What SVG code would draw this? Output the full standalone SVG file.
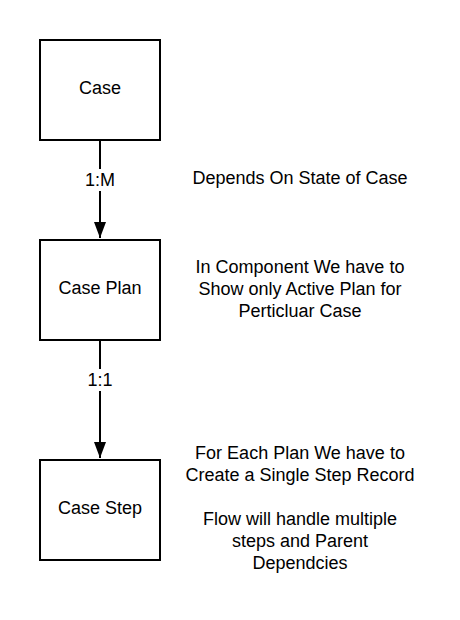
<svg xmlns="http://www.w3.org/2000/svg" width="460" height="620" viewBox="0 0 460 620">
<style>
.box{fill:#fff;stroke:#000;stroke-width:2}
.t{font-family:"Liberation Sans",Arial,sans-serif;font-size:18px;fill:#000;text-anchor:middle}
.line{stroke:#000;stroke-width:2;fill:none}
</style>
<defs>
<marker id="arr" markerWidth="16" markerHeight="12" refX="16" refY="6" orient="auto" markerUnits="userSpaceOnUse" viewBox="0 0 16 12">
<path d="M0,0 L16,6 L0,12 Z" fill="#000"/>
</marker>
</defs>
<rect width="460" height="620" fill="#fff"/>
<g id="connectors">
<line class="line" x1="100" y1="141" x2="100" y2="238" marker-end="url(#arr)"/>
<rect x="82" y="169" width="36" height="22" fill="#fff"/>
<text class="t" x="100" y="186">1:M</text>
<line class="line" x1="100" y1="341" x2="100" y2="458" marker-end="url(#arr)"/>
<rect x="84" y="369" width="32" height="22" fill="#fff"/>
<text class="t" x="100" y="386">1:1</text>
</g>
<g id="case">
<rect class="box" x="40" y="40" width="120" height="100"/>
<text class="t" x="100" y="94">Case</text>
</g>
<g id="case-plan">
<rect class="box" x="40" y="240" width="120" height="100"/>
<text class="t" x="100" y="294">Case Plan</text>
</g>
<g id="case-step">
<rect class="box" x="40" y="460" width="120" height="100"/>
<text class="t" x="100" y="514">Case Step</text>
</g>
<g id="note-1">
<text class="t" x="300" y="184">Depends On State of Case</text>
</g>
<g id="note-2">
<text class="t" x="300" y="273">In Component We have to</text>
<text class="t" x="300" y="295">Show only Active Plan for</text>
<text class="t" x="300" y="317">Perticluar Case</text>
</g>
<g id="note-3">
<text class="t" x="300" y="459">For Each Plan We have to</text>
<text class="t" x="300" y="481">Create a Single Step Record</text>
<text class="t" x="300" y="525">Flow will handle multiple</text>
<text class="t" x="300" y="547">steps and Parent</text>
<text class="t" x="300" y="569">Dependcies</text>
</g>
</svg>
